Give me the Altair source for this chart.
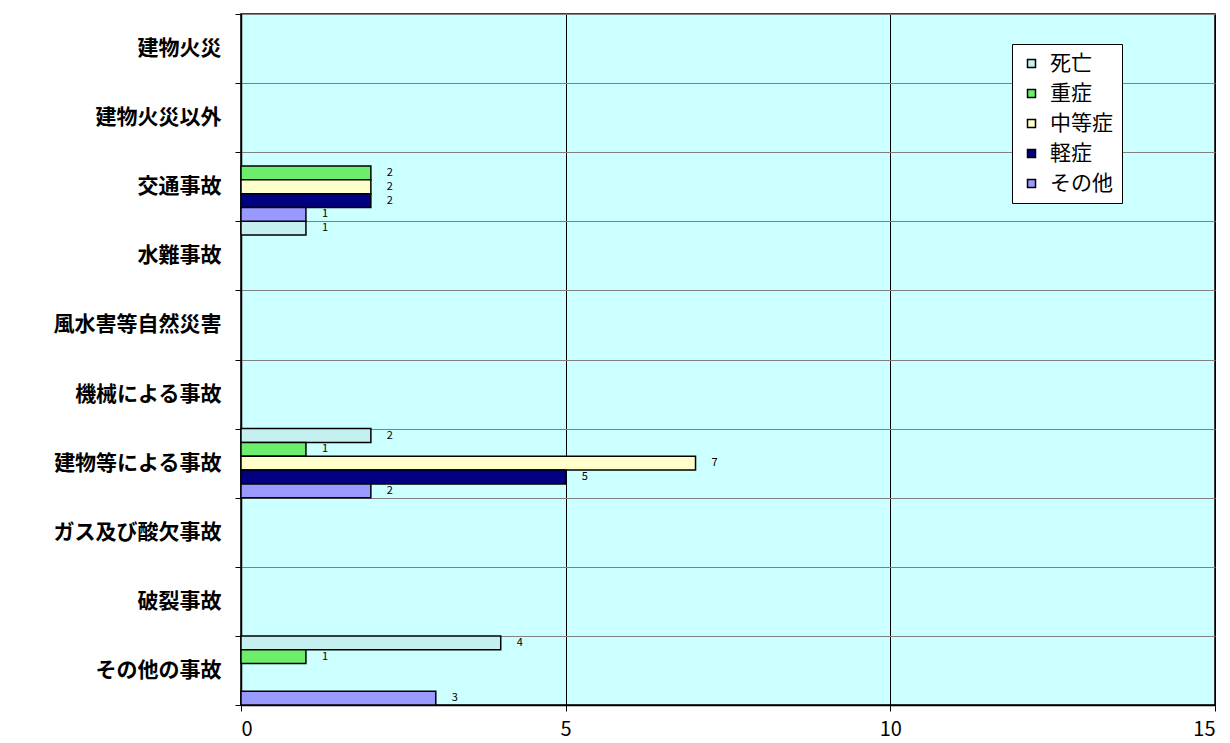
import altair as alt
import pandas as pd

categories = ["建物火災", "建物火災以外", "交通事故", "水難事故", "風水害等自然災害",
              "機械による事故", "建物等による事故", "ガス及び酸欠事故", "破裂事故", "その他の事故"]
series = ["死亡", "重症", "中等症", "軽症", "その他"]
shibou = [0, 0, 0, 1, 0, 0, 2, 0, 0, 4]
juusho = [0, 0, 2, 0, 0, 0, 1, 0, 0, 1]
chuutou = [0, 0, 2, 0, 0, 0, 7, 0, 0, 0]
keishou = [0, 0, 2, 0, 0, 0, 5, 0, 0, 0]
sonota = [0, 0, 1, 0, 0, 0, 2, 0, 0, 3]
colors = ["#C4F0F0", "#6CEE6C", "#FFFFCC", "#000080", "#9999FF"]

values = [shibou, juusho, chuutou, keishou, sonota]
rows = []
for s, vals in zip(series, values):
    for c, v in zip(categories, vals):
        rows.append({"category": c, "series": s, "value": v})
df = pd.DataFrame(rows)

FONT = "Noto Sans CJK JP"

y_enc = alt.Y("category:N", sort=categories,
              scale=alt.Scale(domain=categories, paddingInner=0, paddingOuter=0),
              axis=alt.Axis(title=None, tickBand="extent", labelFontSize=21, labelFontWeight="bold",
                            labelFont=FONT, labelPadding=14, tickSize=6, grid=True,
                            gridColor="#808080", gridWidth=1, domainColor="black", domainWidth=1.5,
                            tickColor="black", labelColor="black", labelLimit=300))
yoff = alt.YOffset("series:N", sort=series,
                   scale=alt.Scale(domain=series, paddingInner=0, paddingOuter=0))
x_enc = alt.X("value:Q", scale=alt.Scale(domain=[0, 15], nice=False),
              axis=alt.Axis(title=None, values=[0, 5, 10, 15], format="d", grid=True,
                            gridColor="black", gridWidth=1, labelFontSize=20, labelFont=FONT,
                            labelColor="black", labelPadding=8, tickSize=6, tickColor="black",
                            domainColor="black", domainWidth=1.5))

base = alt.Chart(df).transform_filter("datum.value > 0")

bars = base.mark_bar(stroke="black", strokeWidth=1.5).encode(
    y=y_enc, yOffset=yoff, x=x_enc,
    color=alt.Color("series:N", sort=series,
                    scale=alt.Scale(domain=series, range=colors),
                    legend=alt.Legend(title=None, orient="none", legendX=771, legendY=30,
                                      fillColor="white", strokeColor="black", padding=9,
                                      labelFontSize=21, labelFont=FONT, labelColor="black",
                                      symbolType="square", symbolSize=64, symbolStrokeColor="black",
                                      symbolStrokeWidth=1.5, rowPadding=8, labelOffset=8,
                                      labelLimit=200)),
)

labels = base.mark_text(align="left", baseline="middle", dx=16, fontSize=11,
                        font=FONT, color="black").encode(
    y=alt.Y("category:N", sort=categories), yOffset=alt.YOffset("series:N", sort=series),
    x="value:Q", text=alt.Text("value:Q", format="d"))

chart = (bars + labels).properties(
    width=974, height=691,
    autosize=alt.AutoSizeParams(type="none"),
    padding={"left": 233, "top": 6, "right": 7, "bottom": 38},
    background="white",
).configure_view(fill="#CCFFFF", stroke="black", strokeWidth=1.5)

chart.save("out.html", embed_options={"renderer": "svg", "actions": False})
